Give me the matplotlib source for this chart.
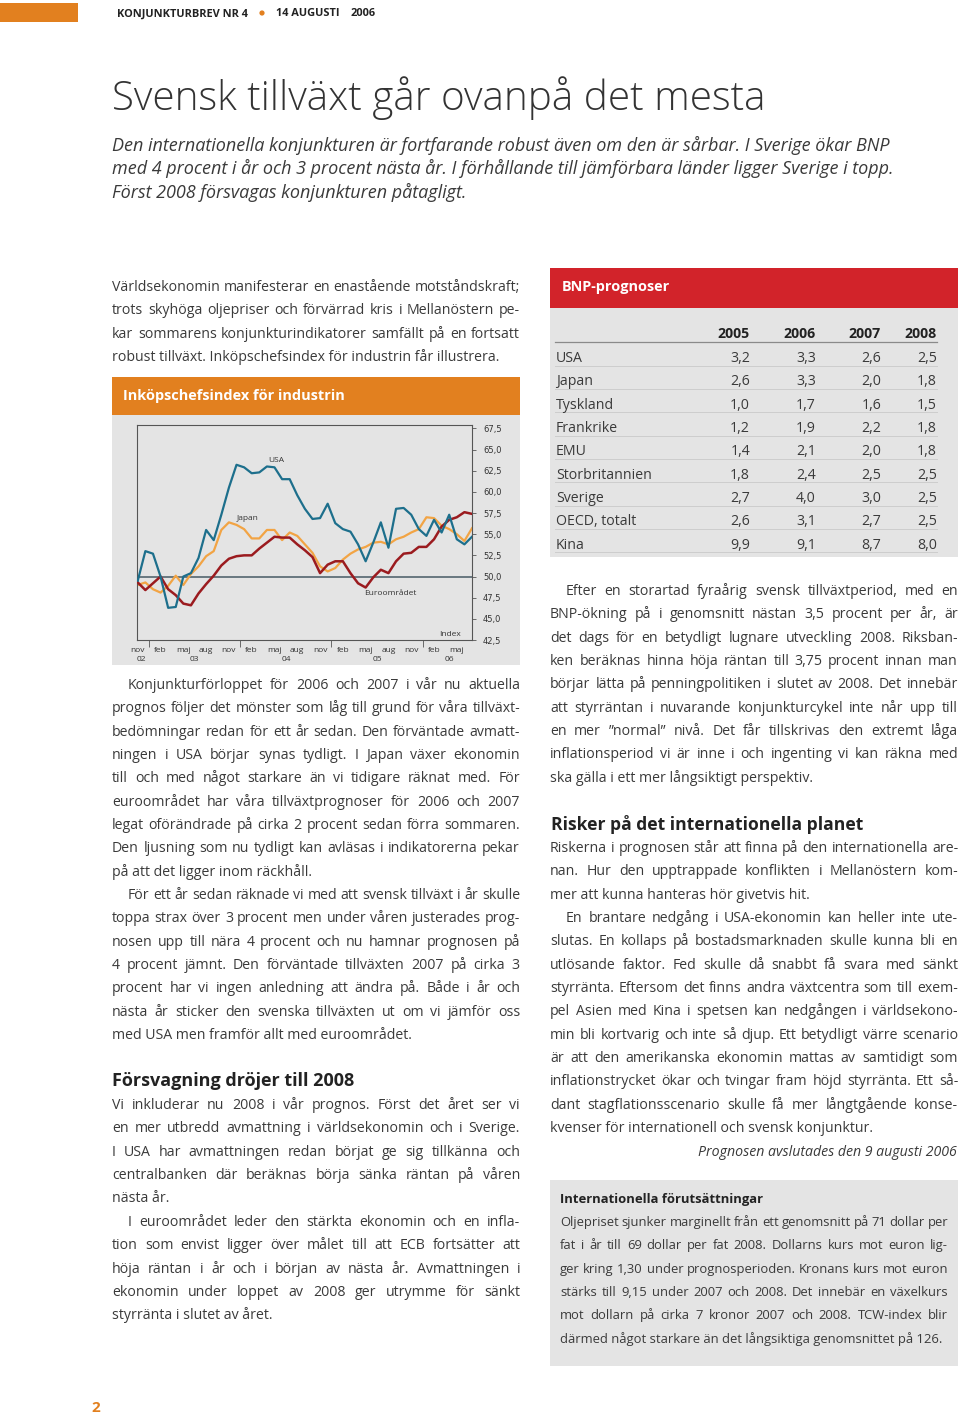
import matplotlib
matplotlib.use('Agg')
import matplotlib.pyplot as plt
from matplotlib.font_manager import FontProperties
from matplotlib.patches import Rectangle, Circle

# Chart data: purchasing managers index, monthly nov 2002 - jul 2006
usa = [49.5, 53.0, 52.7, 50.0, 46.3, 46.4, 50.0, 50.4, 52.2, 55.5, 54.3, 57.3,
       60.5, 63.2, 62.9, 62.2, 62.3, 63.0, 62.9, 61.5, 61.5, 59.6, 58.0, 56.8,
       56.9, 58.6, 56.3, 55.6, 55.3, 53.8, 51.8, 54.0, 56.4, 53.4, 58.0, 58.1,
       57.3, 55.6, 54.8, 56.7, 55.2, 57.3, 54.4, 53.8, 54.7]
japan = [49.0, 49.3, 48.5, 48.1, 48.9, 50.1, 49.0, 50.3, 51.2, 52.4, 53.0, 55.5,
         56.4, 56.1, 55.6, 54.5, 54.5, 55.5, 55.5, 54.3, 55.2, 54.8, 53.8, 52.8,
         51.2, 50.6, 51.0, 52.0, 52.7, 53.2, 53.5, 54.0, 54.1, 53.8, 54.4, 54.7,
         55.2, 55.6, 57.0, 56.9, 56.0, 55.6, 55.0, 54.2, 55.7]
euro = [49.3, 48.4, 49.2, 50.0, 48.5, 47.8, 46.8, 46.6, 48.0, 49.1, 50.1, 51.3,
        52.1, 52.4, 52.5, 52.5, 53.3, 54.0, 54.7, 54.6, 54.6, 53.8, 53.1, 52.3,
        50.4, 51.4, 51.8, 51.8, 50.4, 49.2, 48.7, 49.9, 50.8, 50.4, 51.8, 52.7,
        52.8, 53.5, 53.5, 54.4, 55.9, 56.7, 57.0, 57.6, 57.4]
month_labels = ['nov', 'feb', 'maj', 'aug', 'nov', 'feb', 'maj', 'aug',
                'nov', 'feb', 'maj', 'aug', 'nov', 'feb', 'maj']
month_pos = [0, 3, 6, 9, 12, 15, 18, 21, 24, 27, 30, 33, 36, 39, 42]
year_labels = ['02', '03', '04', '05', '06']
year_pos = [0.5, 7.5, 19.5, 31.5, 41]
year_breaks = [1.5, 13.5, 25.5, 37.5]
y_ticks = [42.5, 45.0, 47.5, 50.0, 52.5, 55.0, 57.5, 60.0, 62.5, 65.0, 67.5]

# Table data: BNP-prognoser
countries = ['USA', 'Japan', 'Tyskland', 'Frankrike', 'EMU', 'Storbritannien',
             'Sverige', 'OECD, totalt', 'Kina']
years = ['2005', '2006', '2007', '2008']
bnp_2005 = [3.2, 2.6, 1.0, 1.2, 1.4, 1.8, 2.7, 2.6, 9.9]
bnp_2006 = [3.3, 3.3, 1.7, 1.9, 2.1, 2.4, 4.0, 3.1, 9.1]
bnp_2007 = [2.6, 2.0, 1.6, 2.2, 2.0, 2.5, 3.0, 2.7, 8.7]
bnp_2008 = [2.5, 1.8, 1.5, 1.8, 1.8, 2.5, 2.5, 2.5, 8.0]

ORANGE = '#E2801F'
RED = '#D2232A'
GREY = '#E4E4E4'
TXT = '#3a3a3a'
FAM = ['Open Sans', 'DejaVu Sans']

fig = plt.figure(figsize=(9.6, 14.16), dpi=100)
ax = fig.add_axes([0, 0, 1, 1])
ax.set_xlim(0, 960)
ax.set_ylim(1416, 0)
ax.axis('off')
renderer = fig.canvas.get_renderer()


def fp(size, weight='normal', style='normal'):
    return FontProperties(family=FAM, size=size, weight=weight, style=style)


def tw(s, prop):
    return renderer.get_text_width_height_descent(s, prop, ismath=False)[0]


def fit(s, width, weight='normal', style='normal'):
    return 10 * width / tw(s, fp(10, weight, style))


def block(lines, x0, x1, y0, prop, indent=0, lead=23.35, color=TXT):
    y = y0 + 5
    for i, line in enumerate(lines):
        xs = x0 + (indent if i == 0 else 0)
        words = line.split(' ')
        if i == len(lines) - 1 or len(words) == 1:
            ax.text(xs, y, line, fontproperties=prop, color=color, va='baseline')
        else:
            ws = [tw(w, prop) for w in words]
            gap = (x1 - xs - sum(ws)) / (len(words) - 1)
            x = xs
            for w, wd in zip(words, ws):
                ax.text(x, y, w, fontproperties=prop, color=color, va='baseline')
                x += wd + gap
        y += lead


# header
ax.add_patch(Rectangle((0, 3), 78, 19, color=ORANGE, lw=0))
hsize = fit('KONJUNKTURBREV NR 4', 131, 'bold')
hp = fp(hsize, 'bold')
ax.text(117, 14, 'KONJUNKTURBREV NR 4', fontproperties=hp, color='#222', va='center')
ax.add_patch(Circle((262, 13), 2.6, color=ORANGE, lw=0))
ax.text(276, 14, '14 AUGUSTI', fontproperties=hp, color='#222', va='center')
ax.text(351, 14, '2006', fontproperties=hp, color='#222', va='center')

title = 'Svensk tillväxt går ovanpå det mesta'
ax.text(112, 98, title, fontproperties=fp(fit(title, 653, 'light'), 'light'),
        color='#333', va='center')

sub = ['Den internationella konjunkturen är fortfarande robust även om den är sårbar. I Sverige ökar BNP',
       'med 4 procent i år och 3 procent nästa år. I förhållande till jämförbara länder ligger Sverige i topp.',
       'Först 2008 försvagas konjunkturen påtagligt.']
sp = fp(fit(sub[0], 781, style='italic'), style='italic')
for i, s in enumerate(sub):
    ax.text(112, 151 + 23.3 * i, s, fontproperties=sp, color=TXT, va='baseline')

# body font size from a natural-width last line
bsize = fit('robust tillväxt. Inköpschefsindex för industrin får illustrera.', 388)
bp = fp(bsize)

block(['Världsekonomin manifesterar en enastående motståndskraft;',
       'trots skyhöga oljepriser och förvärrad kris i Mellanöstern pe-',
       'kar sommarens konjunkturindikatorer samfällt på en fortsatt',
       'robust tillväxt. Inköpschefsindex för industrin får illustrera.'],
      112, 520, 286, bp)

block(['Konjunkturförloppet för 2006 och 2007 i vår nu aktuella',
       'prognos följer det mönster som låg till grund för våra tillväxt-',
       'bedömningar redan för ett år sedan. Den förväntade avmatt-',
       'ningen i USA börjar synas tydligt. I Japan växer ekonomin',
       'till och med något starkare än vi tidigare räknat med. För',
       'euroområdet har våra tillväxtprognoser för 2006 och 2007',
       'legat oförändrade på cirka 2 procent sedan förra sommaren.',
       'Den ljusning som nu tydligt kan avläsas i indikatorerna pekar',
       'på att det ligger inom räckhåll.'],
      112, 520, 684, bp, indent=16)

block(['För ett år sedan räknade vi med att svensk tillväxt i år skulle',
       'toppa strax över 3 procent men under våren justerades prog-',
       'nosen upp till nära 4 procent och nu hamnar prognosen på',
       '4 procent jämnt. Den förväntade tillväxten 2007 på cirka 3',
       'procent har vi ingen anledning att ändra på. Både i år och',
       'nästa år sticker den svenska tillväxten ut om vi jämför oss',
       'med USA men framför allt med euroområdet.'],
      112, 520, 894, bp, indent=16)

h1 = 'Försvagning dröjer till 2008'
ax.text(112, 1086, h1, fontproperties=fp(fit(h1, 244, 'bold'), 'bold'), color='#222', va='baseline')

block(['Vi inkluderar nu 2008 i vår prognos. Först det året ser vi',
       'en mer utbredd avmattning i världsekonomin och i Sverige.',
       'I USA har avmattningen redan börjat ge sig tillkänna och',
       'centralbanken där beräknas börja sänka räntan på våren',
       'nästa år.'],
      112, 520, 1104, bp)

block(['I euroområdet leder den stärkta ekonomin och en infla-',
       'tion som envist ligger över målet till att ECB fortsätter att',
       'höja räntan i år och i början av nästa år. Avmattningen i',
       'ekonomin under loppet av 2008 ger utrymme för sänkt',
       'styrränta i slutet av året.'],
      112, 520, 1221, bp, indent=16)

# right column text
block(['Efter en storartad fyraårig svensk tillväxtperiod, med en',
       'BNP-ökning på i genomsnitt nästan 3,5 procent per år, är',
       'det dags för en betydligt lugnare utveckling 2008. Riksban-',
       'ken beräknas hinna höja räntan till 3,75 procent innan man',
       'börjar lätta på penningpolitiken i slutet av 2008. Det innebär',
       'att styrräntan i nuvarande konjunkturcykel inte når upp till',
       'en mer ”normal” nivå. Det får tillskrivas den extremt låga',
       'inflationsperiod vi är inne i och ingenting vi kan räkna med',
       'ska gälla i ett mer långsiktigt perspektiv.'],
      550, 958, 590, bp, indent=16)

h2 = 'Risker på det internationella planet'
ax.text(551, 830, h2, fontproperties=fp(fit(h2, 314, 'bold'), 'bold'), color='#222', va='baseline')

block(['Riskerna i prognosen står att finna på den internationella are-',
       'nan. Hur den upptrappade konflikten i Mellanöstern kom-',
       'mer att kunna hanteras hör givetvis hit.'],
      550, 958, 847, bp)

block(['En brantare nedgång i USA-ekonomin kan heller inte ute-',
       'slutas. En kollaps på bostadsmarknaden skulle kunna bli en',
       'utlösande faktor. Fed skulle då snabbt få svara med sänkt',
       'styrränta. Eftersom det finns andra växtcentra som till exem-',
       'pel Asien med Kina i spetsen kan nedgången i världsekono-',
       'min bli kortvarig och inte så djup. Ett betydligt värre scenario',
       'är att den amerikanska ekonomin mattas av samtidigt som',
       'inflationstrycket ökar och tvingar fram höjd styrränta. Ett så-',
       'dant stagflationsscenario skulle få mer långtgående konse-',
       'kvenser för internationell och svensk konjunktur.'],
      550, 958, 917, bp, indent=16)

ax.text(957, 1156, 'Prognosen avslutades den 9 augusti 2006',
        fontproperties=fp(bsize, style='italic'), color=TXT, va='baseline', ha='right')

# info box
ax.add_patch(Rectangle((550, 1180), 408, 186, color=GREY, lw=0))
boxsize = fit('därmed något starkare än det långsiktiga genomsnittet på 126.', 380)
ax.text(560, 1203, 'Internationella förutsättningar', fontproperties=fp(boxsize, 'bold'),
        color='#222', va='baseline')
block(['Oljepriset sjunker marginellt från ett genomsnitt på 71 dollar per',
       'fat i år till 69 dollar per fat 2008. Dollarns kurs mot euron lig-',
       'ger kring 1,30 under prognosperioden. Kronans kurs mot euron',
       'stärks till 9,15 under 2007 och 2008. Det innebär en växelkurs',
       'mot dollarn på cirka 7 kronor 2007 och 2008. TCW-index blir',
       'därmed något starkare än det långsiktiga genomsnittet på 126.'],
      560, 948, 1221, fp(boxsize))

# BNP table
ax.add_patch(Rectangle((550, 268), 408, 40, color=RED, lw=0))
ax.add_patch(Rectangle((550, 308), 408, 249, color=GREY, lw=0))
ax.text(562, 287, 'BNP-prognoser', fontproperties=fp(bsize * 1.02, 'bold'),
        color='white', va='center')
col_x = [750, 816, 881, 937]
for cx, yr in zip(col_x, years):
    ax.text(cx, 338, yr, fontproperties=fp(bsize, 'bold'), color='#222',
            va='baseline', ha='right')
ax.plot([555, 937], [342, 342], color='#8a8a8a', lw=0.9)
cols = [bnp_2005, bnp_2006, bnp_2007, bnp_2008]
for k, name in enumerate(countries):
    y = 357 + 23.35 * k
    ax.text(556, y + 5, name, fontproperties=bp, color=TXT, va='baseline')
    for cx, vals in zip(col_x, cols):
        ax.text(cx, y + 5, f'{vals[k]:.1f}'.replace('.', ','), fontproperties=bp,
                color=TXT, va='baseline', ha='right')
    ax.plot([555, 937], [y + 8.5, y + 8.5], color='#cdcdcd', lw=0.7)

# chart panel
ax.add_patch(Rectangle((112, 377), 408, 38, color=ORANGE, lw=0))
ax.text(123, 396, 'Inköpschefsindex för industrin', fontproperties=fp(bsize * 1.02, 'bold'),
        color='white', va='center')
ax.add_patch(Rectangle((112, 415), 408, 250, color=GREY, lw=0))

ax.text(96, 1408, '2', fontproperties=fp(11, 'bold'), color=ORANGE, va='center', ha='center')

cax = fig.add_axes([137 / 960, 1 - 640 / 1416, (472 - 137) / 960, (640 - 425) / 1416])
cax.set_facecolor(GREY)
x = list(range(len(usa)))
cax.axhline(50, color='#5f6f78', lw=1.3, zorder=1)
cax.plot(x, euro, color='#9b1b1f', lw=1.8, zorder=3)
cax.plot(x, japan, color='#f2a444', lw=1.6, zorder=2)
cax.plot(x, usa, color='#1d6f8c', lw=1.6, zorder=4)
cax.set_xlim(-0.1, 44)
cax.set_ylim(42.5, 67.9)
for s in cax.spines.values():
    s.set_color('#555')
    s.set_linewidth(0.8)
cax.yaxis.tick_right()
cax.set_yticks(y_ticks)
cax.set_yticklabels([f'{v:.1f}'.replace('.', ',') for v in y_ticks])
cax.tick_params(axis='y', length=3, width=0.6, color='#555', labelsize=6,
                labelcolor='#333', pad=5)
cax.set_xticks(year_breaks)
cax.set_xticklabels([])
cax.tick_params(axis='x', length=5, width=0.6, color='#555')
lp = fp(6)
for p, lab in zip(month_pos, month_labels):
    cax.text(p, 41.3, lab, fontproperties=lp, color='#333', ha='center', va='center')
for p, lab in zip(year_pos, year_labels):
    cax.text(p, 40.2, lab, fontproperties=lp, color='#333', ha='center', va='center')
cax.text(18.2, 63.7, 'USA', fontproperties=lp, color='#333', ha='center', va='center')
cax.text(14.4, 56.8, 'Japan', fontproperties=lp, color='#333', ha='center', va='center')
cax.text(33.2, 48.0, 'Euroområdet', fontproperties=lp, color='#333', ha='center', va='center')
cax.text(41.1, 43.2, 'Index', fontproperties=lp, color='#333', ha='center', va='center')

fig.savefig('out.png', dpi=100, facecolor='white')
